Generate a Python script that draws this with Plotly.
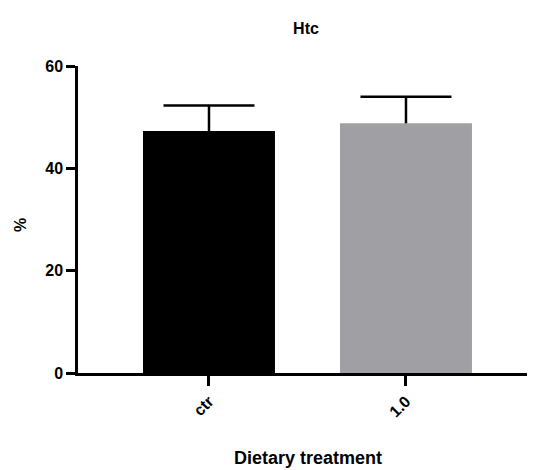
import plotly.graph_objects as go

categories = ["ctr", "1.0"]
means = [47.3, 48.8]
errors = [5.0, 5.2]
bar_colors = ["#000000", "#a0a0a4"]
y_ticks = [0, 20, 40, 60]

err_tops = [m + e for m, e in zip(means, errors)]

fig = go.Figure()
fig.add_trace(go.Bar(
    x=categories,
    y=means,
    width=0.67,
    marker=dict(color=bar_colors, line=dict(width=0)),
    error_y=dict(type="data", array=errors, arrayminus=[0, 0], symmetric=False,
                 color="#000000", thickness=2.5, width=0),
    showlegend=False,
))
# caps of the error bars (upper only)
fig.add_trace(go.Scatter(
    x=categories,
    y=err_tops,
    mode="markers",
    marker=dict(symbol="line-ew", size=65, color="black",
                line=dict(color="black", width=2.5)),
    showlegend=False,
    hoverinfo="skip",
))

font_family = "Liberation Sans, Arial, sans-serif"

# page body has an 8px margin, so the figure is 8px smaller on each side
fig.update_layout(
    width=527, height=462,
    margin=dict(l=70, r=0, t=58, b=97),
    plot_bgcolor="white", paper_bgcolor="white",
    title=dict(text="<b>Htc</b>", x=298 / 527, xanchor="center", y=1 - 20 / 462, yanchor="middle",
               font=dict(family=font_family, size=16, color="black")),
    xaxis=dict(type="category", range=[-0.665, 1.655],
               showline=True, linecolor="black", linewidth=2.5,
               ticks="outside", ticklen=10, tickwidth=2.5, tickcolor="black",
               tickangle=-45, showgrid=False, zeroline=False,
               tickfont=dict(family=font_family, size=16, color="black", weight="bold")),
    yaxis=dict(range=[0, 60], tickvals=y_ticks,
               showline=True, linecolor="black", linewidth=2.5,
               ticks="outside", ticklen=9, tickwidth=2.5, tickcolor="black",
               showgrid=False, zeroline=False,
               tickfont=dict(family=font_family, size=16, color="black", weight="bold")),
    annotations=[
        dict(text="<b>Dietary treatment</b>", xref="paper", yref="paper", x=(300 - 70) / 457, y=(365 - 450) / 307,
             showarrow=False, xanchor="center", yanchor="middle",
             font=dict(family=font_family, size=18, color="black")),
        dict(text="<b>%</b>", xref="paper", yref="paper", x=(12 - 70) / 457, y=(365 - 217) / 307,
             showarrow=False, xanchor="center", yanchor="middle", textangle=-90,
             font=dict(family=font_family, size=16, color="black")),
    ],
)

fig.write_html("out.html")
